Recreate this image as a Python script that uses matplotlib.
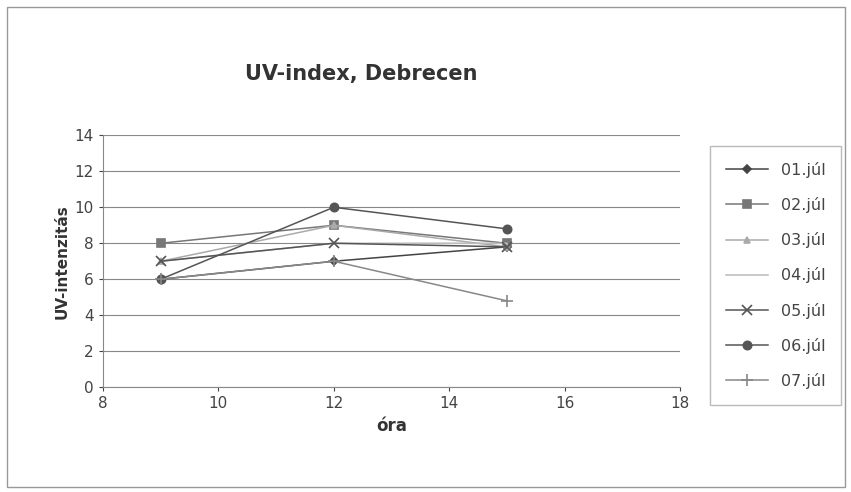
import matplotlib.pyplot as plt
from matplotlib.patches import Rectangle

hours = [9, 12, 15]
labels = ["01.júl", "02.júl", "03.júl", "04.júl", "05.júl", "06.júl", "07.júl"]
d01 = [6, 7, 7.8]
d02 = [8, 9, 8]
d03 = [7, 9, 7.8]
d04 = [7, 8, 8]
d05 = [7, 8, 7.8]
d06 = [6, 10, 8.8]
d07 = [6, 7, 4.8]
series = [d01, d02, d03, d04, d05, d06, d07]

markers = ["D", "s", "^", "", "x", "o", "+"]
colors = ["#444444", "#777777", "#aaaaaa", "#bbbbbb", "#555555", "#555555", "#888888"]
sizes = [4, 6, 5, 0, 7, 6, 8]

fig = plt.figure(figsize=(8.51, 4.92), dpi=100)
ax = fig.add_axes([0.121, 0.213, 0.678, 0.512])

for vals, lab, m, c, s in zip(series, labels, markers, colors, sizes):
    ax.plot(hours, vals, marker=m, color=c, markersize=s, linewidth=1.1,
            markeredgewidth=1.2, label=lab)

ax.set_xlim(8, 18)
ax.set_ylim(0, 14)
ax.set_xticks(range(8, 19, 2))
ax.set_yticks(range(0, 15, 2))
ax.grid(axis="y", color="#888888", linewidth=0.8)
ax.tick_params(labelsize=11, colors="#444444", length=3)
for side in ["top", "right"]:
    ax.spines[side].set_visible(False)
for side in ["left", "bottom"]:
    ax.spines[side].set_color("#888888")

ax.set_xlabel("óra", fontsize=12, fontweight="bold", color="#333333")
ax.set_ylabel("UV-intenzitás", fontsize=11, fontweight="bold", color="#333333")
fig.text(0.425, 0.85, "UV-index, Debrecen", ha="center", va="center",
         fontsize=15, fontweight="bold", color="#333333")

leg = fig.legend(loc="upper left", bbox_to_anchor=(0.831, 0.71), fontsize=11.5,
                 frameon=True, labelspacing=1.2, handlelength=2.6,
                 borderpad=0.7)
leg.get_frame().set_edgecolor("#aaaaaa")
leg.get_frame().set_boxstyle("square")
for t in leg.get_texts():
    t.set_color("#444444")

fig.patches.append(Rectangle((0.008, 0.01), 0.985, 0.975, transform=fig.transFigure,
                             fill=False, edgecolor="#999999", linewidth=1))

fig.savefig("out.png", dpi=100)
